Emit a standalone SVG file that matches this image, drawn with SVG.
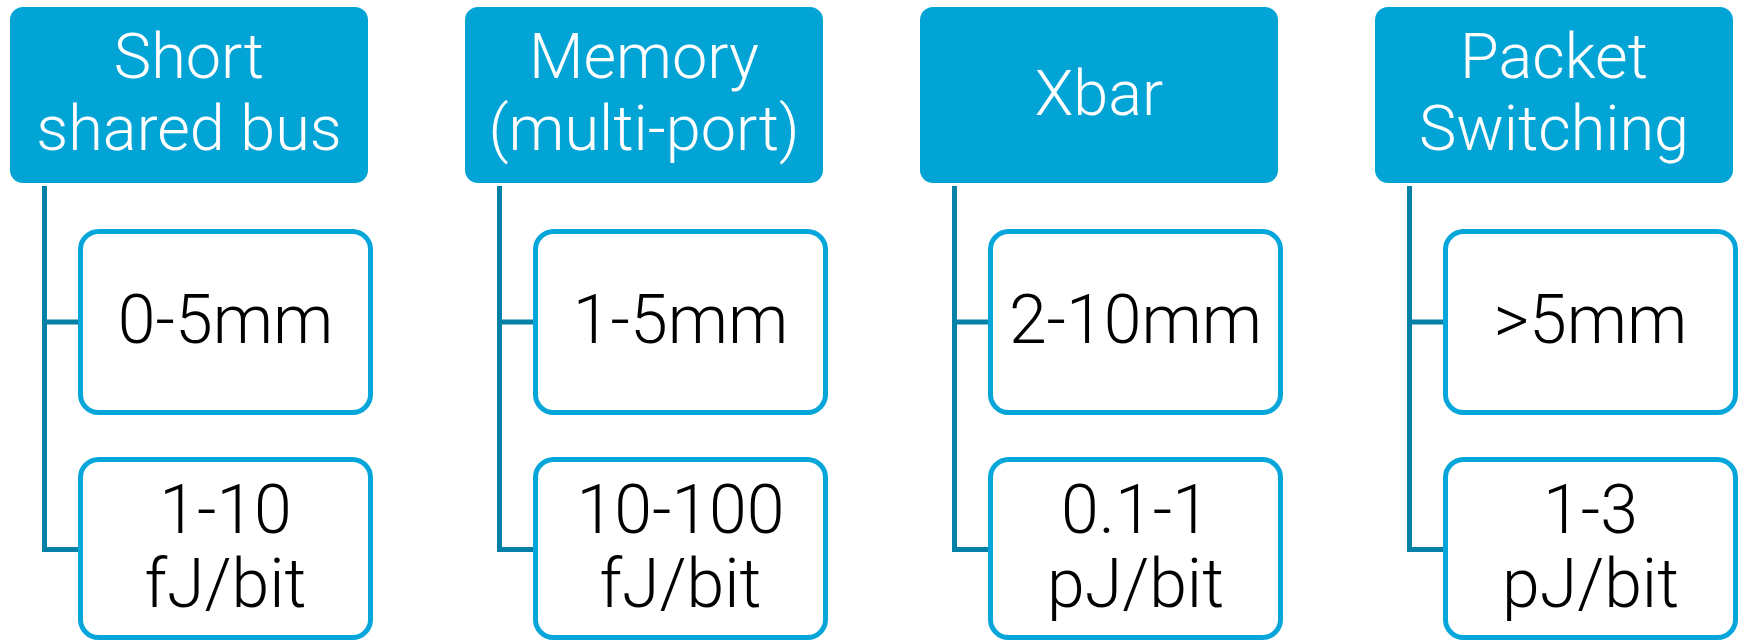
<svg xmlns="http://www.w3.org/2000/svg" width="1739" height="640" viewBox="0 0 1739 640">
  <style>
    .head { fill: #02A4D5; }
    .box { fill: #FFFFFF; stroke: #06A6DA; stroke-width: 5; }
    .link { fill: none; stroke: #0581A8; stroke-width: 5; stroke-linejoin: miter; }
    .ht { font-family: Roboto, "Liberation Sans", sans-serif; font-weight: 300; font-size: 63px; fill: #FFFFFF; text-anchor: middle; }
    .bt { font-family: Roboto, "Liberation Sans", sans-serif; font-weight: 300; font-size: 68px; fill: #000000; text-anchor: middle; }
  </style>
  <defs>
    <rect id="header" class="head" x="0" y="0" width="358" height="176" rx="13" ry="13"/>
    <rect id="box1" class="box" x="0" y="0" width="290" height="181" rx="18" ry="18"/>
    <rect id="box2" class="box" x="0" y="0" width="290" height="178" rx="18" ry="18"/>
  </defs>
  <rect width="1739" height="640" fill="#FFFFFF"/>

  <!-- tree connectors: a spine under each header with two branches -->
  <g id="connectors" class="link">
    <path d="M44.5 186 V549.5 H80 M44.5 322 H80"/>
    <path d="M499.5 186 V549.5 H535 M499.5 322 H535"/>
    <path d="M954.5 186 V549.5 H990 M954.5 322 H990"/>
    <path d="M1409.5 186 V549.5 H1445 M1409.5 322 H1445"/>
  </g>

  <!-- column 1 -->
  <g id="bus">
    <use href="#header" x="10" y="7"/>
    <text class="ht" x="189" y="78">Short</text>
    <text class="ht" x="189" y="150">shared bus</text>
  </g>
  <g id="bus-length">
    <use href="#box1" x="80.5" y="231.5"/>
    <text class="bt" x="225.5" y="343">0-5mm</text>
  </g>
  <g id="bus-energy">
    <use href="#box2" x="80.5" y="459.5"/>
    <text class="bt" x="225.5" y="533">1-10</text>
    <text class="bt" x="225.5" y="607">fJ/bit</text>
  </g>

  <!-- column 2 -->
  <g id="memory">
    <use href="#header" x="465" y="7"/>
    <text class="ht" x="644" y="78">Memory</text>
    <text class="ht" x="644" y="150">(multi-port)</text>
  </g>
  <g id="memory-length">
    <use href="#box1" x="535.5" y="231.5"/>
    <text class="bt" x="680.5" y="343">1-5mm</text>
  </g>
  <g id="memory-energy">
    <use href="#box2" x="535.5" y="459.5"/>
    <text class="bt" x="680.5" y="533">10-100</text>
    <text class="bt" x="680.5" y="607">fJ/bit</text>
  </g>

  <!-- column 3 -->
  <g id="xbar">
    <use href="#header" x="920" y="7"/>
    <text class="ht" x="1099" y="115">Xbar</text>
  </g>
  <g id="xbar-length">
    <use href="#box1" x="990.5" y="231.5"/>
    <text class="bt" x="1135.5" y="343">2-10mm</text>
  </g>
  <g id="xbar-energy">
    <use href="#box2" x="990.5" y="459.5"/>
    <text class="bt" x="1135.5" y="533">0.1-1</text>
    <text class="bt" x="1135.5" y="607">pJ/bit</text>
  </g>

  <!-- column 4 -->
  <g id="packet">
    <use href="#header" x="1375" y="7"/>
    <text class="ht" x="1554" y="78">Packet</text>
    <text class="ht" x="1554" y="150">Switching</text>
  </g>
  <g id="packet-length">
    <use href="#box1" x="1445.5" y="231.5"/>
    <text class="bt" x="1590.5" y="343">&gt;5mm</text>
  </g>
  <g id="packet-energy">
    <use href="#box2" x="1445.5" y="459.5"/>
    <text class="bt" x="1590.5" y="533">1-3</text>
    <text class="bt" x="1590.5" y="607">pJ/bit</text>
  </g>
</svg>
